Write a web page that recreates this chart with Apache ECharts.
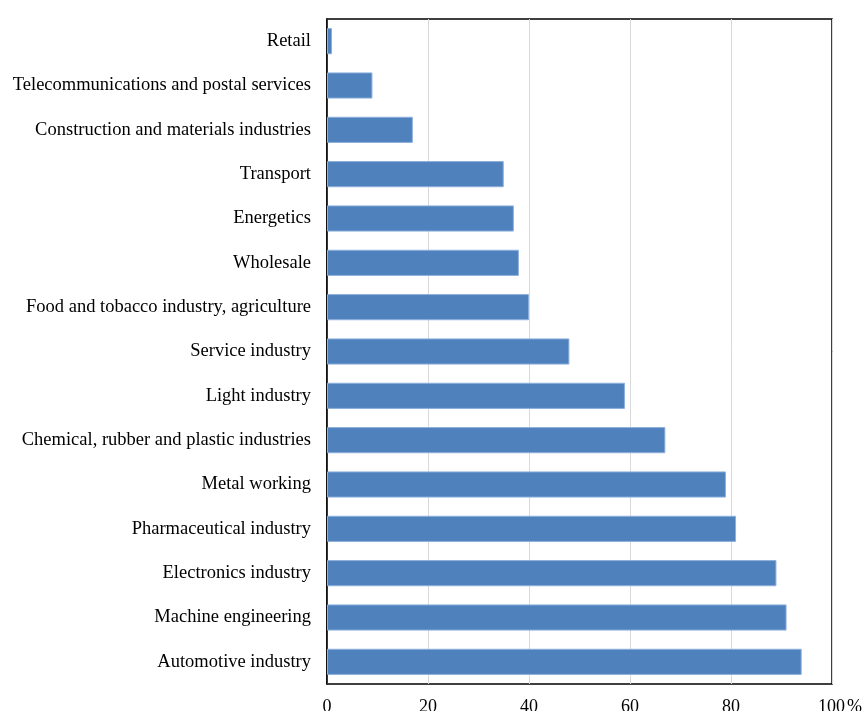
<!DOCTYPE html>
<html>
<head>
<meta charset="utf-8">
<script src="https://cdn.jsdelivr.net/npm/echarts@6/dist/echarts.min.js"></script>
<style>html,body{margin:0;padding:0;background:#fff}#c{width:865px;height:711px}</style>
</head>
<body>
<div id="c"></div>
<script>
const categories = [
  "Retail",
  "Telecommunications and postal services",
  "Construction and materials industries",
  "Transport",
  "Energetics",
  "Wholesale",
  "Food and tobacco industry, agriculture",
  "Service industry",
  "Light industry",
  "Chemical, rubber and plastic industries",
  "Metal working",
  "Pharmaceutical industry",
  "Electronics industry",
  "Machine engineering",
  "Automotive industry"
];
const values = [1, 9, 17, 35, 37, 38, 40, 48, 59, 67, 79, 81, 89, 91, 94];
const xTicks = [0, 20, 40, 60, 80, 100];

const chart = echarts.init(document.getElementById('c'));
chart.setOption({
  animation: false,
  grid: { left: 327, right: 33, top: 19, bottom: 27, outerBoundsMode: 'none', containLabel: false, show: true, borderColor: '#000', borderWidth: 1.5, backgroundColor: 'transparent' },
  xAxis: {
    type: 'value', min: 0, max: 100, interval: 20,
    axisLine: { show: false },
    axisTick: { show: false },
    splitLine: { show: true, lineStyle: { color: '#d9d9d9', width: 1 } },
    axisLabel: {
      margin: 14,
      fontFamily: 'Liberation Serif', fontSize: 18, color: '#000',
      formatter: function (v) { return v === xTicks[xTicks.length - 1] ? '{s|}' + v + '{p|%}' : String(v); },
      rich: {
        s: { width: 16 },
        p: { fontFamily: 'Liberation Serif', fontSize: 18, color: '#000', padding: [0, 0, 0, 2] }
      }
    }
  },
  yAxis: {
    type: 'category', data: categories, inverse: true,
    axisLine: { show: true, lineStyle: { color: '#000', width: 1.5 } },
    axisTick: { show: false },
    axisLabel: { margin: 16, fontFamily: 'Liberation Serif', fontSize: 18.5, color: '#000' }
  },
  series: [{
    type: 'bar', data: values, barCategoryGap: '41%',
    itemStyle: { color: '#4F81BD', borderColor: '#8DB0DD', borderWidth: 1 }
  }]
});
</script>
</body>
</html>
